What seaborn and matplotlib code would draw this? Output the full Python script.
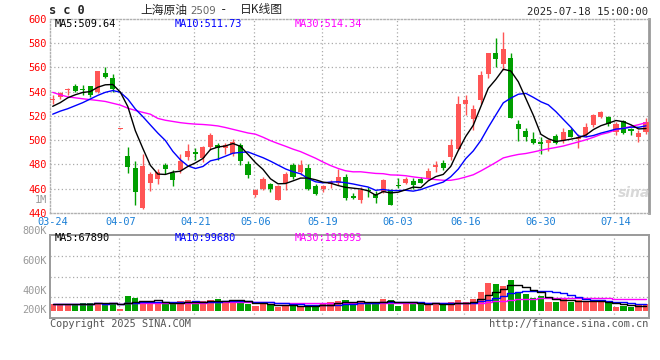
import numpy as np
import pandas as pd
import matplotlib
matplotlib.use("Agg")
import matplotlib.pyplot as plt
import seaborn as sns

sns.set_style("white")
plt.rcParams["font.family"] = ["DejaVu Sans Mono", "Noto Sans CJK SC"]

# ---------------- data ----------------
dates = ["03-24", "03-25", "03-26", "03-27", "03-28", "03-31",
         "04-01", "04-02", "04-03", "04-07", "04-08", "04-09", "04-10", "04-11",
         "04-14", "04-15", "04-16", "04-17", "04-18", "04-21", "04-22", "04-23",
         "04-24", "04-25", "04-28", "04-29", "04-30",
         "05-06", "05-07", "05-08", "05-09", "05-12", "05-13", "05-14", "05-15",
         "05-16", "05-19", "05-20", "05-21", "05-22", "05-23", "05-26", "05-27",
         "05-28", "05-29", "05-30",
         "06-03", "06-04", "06-05", "06-06", "06-09", "06-10", "06-11", "06-12",
         "06-13", "06-16", "06-17", "06-18", "06-19", "06-20", "06-23", "06-24",
         "06-25", "06-26", "06-27", "06-30",
         "07-01", "07-02", "07-03", "07-04", "07-07", "07-08", "07-09", "07-10",
         "07-11", "07-14", "07-15", "07-16", "07-17", "07-18"]

opens = [533, 536, 541.5, 544.5, 542.5, 544.5, 540, 555.5, 551, 509.5,
         487, 477, 444, 465, 468, 479.5, 473, 475.5, 486.5, 490,
         485.5, 494.5, 496, 493.5, 489, 496, 480.5, 454.5, 460, 464,
         451, 465, 479.5, 474, 477.5, 462.5, 459.7, 464, 464.5, 470,
         454, 451, 459, 455.5, 457.7, 459, 462.5, 465, 466.5, 468,
         468, 477.7, 481.5, 486.5, 492.7, 529.7, 517.5, 533, 554.5, 572,
         563, 567.7, 513.3, 507.5, 501, 498.7, 498, 503.4, 500, 508.3,
         500.7, 504.2, 512.4, 519.3, 518.8, 506.4, 515.7, 509, 502.8, 507]
highs = [537, 540, 543, 546, 545.5, 545, 557.5, 560, 555, 510,
         494.5, 482.5, 488.5, 474, 476, 481, 475.5, 488.5, 497, 493.5,
         495.5, 506, 497.5, 498, 500.7, 497.5, 482.5, 460, 470, 465,
         463, 473.5, 481, 484, 480.5, 464, 463.2, 467, 476, 472,
         456.5, 461.5, 461.5, 458, 468, 460, 469, 470, 469, 470,
         477, 482.5, 484, 501, 536.3, 537, 529, 557, 572, 584,
         589.5, 572, 517, 510, 506.5, 503, 501, 505.5, 510.5, 510,
         505.5, 514, 522, 524.2, 520, 515, 516.5, 510, 508.3, 518]
lows = [530, 534, 537, 540, 537, 535.7, 539, 551.5, 540, 509.5,
        473, 446.5, 443, 458, 464, 472, 462.5, 473, 483.5, 483.5,
        482, 492, 483.5, 489, 487, 479.5, 468.5, 453.5, 459, 457,
        451, 459, 468, 471.5, 459, 455, 457, 461, 463, 451,
        451.5, 448.5, 453.5, 448.5, 456.8, 446.5, 461, 464, 459.5, 464.5,
        467.5, 474, 475.5, 483.5, 492, 520.7, 508.5, 529.7, 551, 560.3,
        558, 518.5, 499.5, 499.5, 496.5, 488.5, 491, 497, 498, 502.3,
        493.3, 502.8, 511, 518, 511.6, 504.2, 504.8, 504.2, 498.7, 505]
closes = [534, 539, 542, 540.6, 541.5, 537.5, 557, 552, 542, 510,
          478, 457.5, 479, 472, 474, 476.5, 467, 483, 491.5, 488.7,
          494.5, 504, 493.3, 496, 498.7, 483, 471, 459, 468, 460,
          462.5, 472, 470, 479.5, 460, 455.5, 462.4, 465.5, 470, 452.5,
          452, 459, 458, 452, 467.3, 446.5, 462, 468, 463, 465,
          474.5, 479.6, 477, 496, 530.3, 533, 525.5, 553.5, 572, 566.7,
          575, 518.5, 509, 503, 497.5, 496.6, 500, 498, 507, 503,
          502.8, 510.6, 520.7, 523, 513.3, 513.8, 505.6, 508, 506, 515]
# volume in thousands of lots
volumes = [144, 137, 137, 144, 156, 156, 156, 137, 156, 47,
           287, 261, 195, 144, 176, 137, 156, 195, 209, 144,
           195, 209, 242, 195, 209, 176, 144, 92, 144, 144,
           86, 92, 111, 92, 111, 111, 144, 176, 195, 209,
           176, 195, 137, 176, 228, 209, 92, 144, 176, 144,
           137, 137, 111, 176, 209, 176, 228, 370, 546, 520,
           482, 599, 370, 326, 254, 287, 176, 176, 228, 176,
           209, 195, 176, 176, 156, 86, 92, 86, 111, 137]
# moving-average values shown before enough in-window history exists
ma5_head = [528, 531, 535, 537.5]
ma10_head = [521.5, 524, 526, 528.5, 531, 534, 537, 539.5, 541]
ma30_head = [539.5, 537.5, 535.8, 535, 534.2, 533.5, 532.8, 532, 530.5, 529,
             526.5, 524.6, 523, 521.5, 518, 516.5, 515.5, 514.5, 513.8, 513.3,
             513, 512.5, 511.8, 510.5, 509, 507.5, 506, 505, 502.5]
tick_dates = ["03-24", "04-07", "04-21", "05-06", "05-19", "06-03", "06-16", "06-30", "07-14"]
price_ticks = [440, 460, 480, 500, 520, 540, 560, 580, 600]
vol_labels = ["800K", "600K", "400K", "200K"]
ma_price_text = ["MA5:509.64", "MA10:511.73", "MA30:514.34"]
ma_vol_text = ["MA5:67890", "MA10:99680", "MA30:191993"]

# ---------------- style ----------------
RED = "#FF5555"
GREEN = "#009F00"
C_MA5, C_MA10, C_MA30 = "#000000", "#0000FF", "#FF00FF"
GRID = "#AAAAAA"
FRAME = "#9A9A9A"
XLAB = "#1A7FD6"
FS = 7.4

W, Hh = 660, 360
fig = plt.figure(figsize=(6.6, 3.6), dpi=100)
fig.patch.set_facecolor("white")


def fx(x):
    return x / W


def fy(y):
    return 1 - y / Hh


ax = fig.add_axes([fx(50), fy(213), fx(649) - fx(50), fy(19) - fy(213)])
axv = fig.add_axes([fx(50), fy(318), fx(649) - fx(50), fy(235) - fy(318)])

df = pd.DataFrame({"date": dates, "open": opens, "high": highs, "low": lows,
                   "close": closes, "vol": volumes})
df["i"] = np.arange(len(df))
df["up"] = df["close"] >= df["open"]
colors = np.where(df["up"], RED, GREEN)

ma5 = df["close"].rolling(5).mean().to_numpy()
ma5[:len(ma5_head)] = ma5_head
ma10 = df["close"].rolling(10).mean().to_numpy()
ma10[:len(ma10_head)] = ma10_head
ma30 = df["close"].rolling(30).mean().to_numpy()
ma30[:len(ma30_head)] = ma30_head

xlim = (-0.36, 79.4)
grid_idx = [dates.index(d) for d in tick_dates]

# ---- price panel ----
for gi in grid_idx[1:]:
    ax.axvline(gi - 0.2, color=GRID, lw=0.9, ls=(0, (1, 2)), zorder=0)
for p in price_ticks[1:-1]:
    ax.axhline(p, color=GRID, lw=0.9, ls=(0, (1, 2)), zorder=0)

ax.vlines(df["i"], df["low"], df["high"], colors=colors, lw=1.0, zorder=2)
body_bottom = np.minimum(df["open"], df["close"])
body_h = np.maximum((df["close"] - df["open"]).abs(), 0.8)
ax.bar(df["i"], body_h, bottom=body_bottom, width=0.68, color=colors,
       linewidth=0, zorder=3)

sns.lineplot(x=df["i"], y=ma30, color=C_MA30, lw=1.0, ax=ax, zorder=4)
sns.lineplot(x=df["i"], y=ma10, color=C_MA10, lw=1.0, ax=ax, zorder=4)
sns.lineplot(x=df["i"], y=ma5, color=C_MA5, lw=1.0, ax=ax, zorder=5)

ax.set_xlim(*xlim)
ax.set_ylim(440, 600)
ax.set_yticks(price_ticks)
ax.set_yticklabels([str(p) for p in price_ticks], color="#FF0000", fontsize=FS)
ax.set_xticks(grid_idx)
ax.set_xticklabels(tick_dates, color=XLAB, fontsize=FS)
ax.tick_params(axis="both", length=0)
ax.tick_params(axis="y", pad=2.2)
ax.tick_params(axis="x", pad=3.0)
ax.set_xlabel("")
ax.set_ylabel("")
for s in ["left", "top", "bottom"]:
    ax.spines[s].set_color("#B0B0B0")
    ax.spines[s].set_linewidth(1.0)
    ax.spines[s].set_linestyle((0, (1, 1.5)))
ax.spines["right"].set_color(FRAME)
ax.spines["right"].set_linewidth(2.0)

# ---- volume panel ----
vlo, vhi = -136, 1482
for gi in grid_idx[1:]:
    axv.axvline(gi - 0.2, color=GRID, lw=0.9, ls=(0, (1, 2)), zorder=0)
for gy in np.linspace(vlo, vhi, 5)[1:4]:
    axv.axhline(gy, color=GRID, lw=0.9, ls=(0, (1, 2)), zorder=0)
axv.bar(df["i"], df["vol"], width=0.84, color=colors, linewidth=0, zorder=2)
vma5 = df["vol"].rolling(5, min_periods=1).mean()
vma10 = df["vol"].rolling(10, min_periods=1).mean()
vma30 = df["vol"].rolling(30, min_periods=1).mean()
sns.lineplot(x=df["i"], y=vma30, color=C_MA30, lw=1.0, ax=axv, drawstyle="steps-mid", zorder=3)
sns.lineplot(x=df["i"], y=vma10, color=C_MA10, lw=1.0, ax=axv, drawstyle="steps-mid", zorder=3)
sns.lineplot(x=df["i"], y=vma5, color=C_MA5, lw=1.0, ax=axv, drawstyle="steps-mid", zorder=4)
axv.set_xlim(*xlim)
axv.set_ylim(vlo, vhi)
axv.set_xticks([])
axv.set_yticks([])
axv.set_xlabel("")
axv.set_ylabel("")
for s in axv.spines.values():
    s.set_color(FRAME)
    s.set_linewidth(1.4)

# ---------------- texts ----------------
def t(x, y, s, **kw):
    kw.setdefault("fontsize", FS)
    kw.setdefault("va", "center")
    fig.text(fx(x), fy(y), s, **kw)


t(49, 11, "s c 0", fontsize=8.6, fontweight="bold", ha="left")
t(140, 10, "上海原油", fontsize=8.5, ha="left", family=["Noto Sans CJK SC"])
t(190, 11, "2509", fontsize=7.4, ha="left", color="#666666", family=["DejaVu Sans"])
t(224, 10, "-", fontsize=9, ha="center")
t(240, 10, "日K线图", fontsize=8.5, ha="left", family=["Noto Sans CJK SC", "DejaVu Sans"])
t(648, 12, "2025-07-18 15:00:00", ha="right", fontsize=7.6)

t(55, 24, ma_price_text[0], ha="left", color=C_MA5)
t(175, 24, ma_price_text[1], ha="left", color=C_MA10)
t(295, 24, ma_price_text[2], ha="left", color=C_MA30)
t(47, 200, "1M", ha="right", color="#999999")

for lab, yy in zip(vol_labels, [231, 261, 291, 310]):
    t(47, yy, lab, ha="right", color="#999999")
t(55, 238, ma_vol_text[0], ha="left", color=C_MA5)
t(175, 238, ma_vol_text[1], ha="left", color=C_MA10)
t(295, 238, ma_vol_text[2], ha="left", color=C_MA30)

t(50, 324, "Copyright 2025 SINA.COM", ha="left", color="#555555")
t(648, 324, "http://finance.sina.com.cn", ha="right", color="#555555")

# sina watermark
t(634, 193, "sina", ha="center", fontsize=10, fontweight="bold", style="italic",
  color="#D8D8D8", family=["DejaVu Sans"])

fig.savefig("out.png", dpi=100, facecolor="white")
